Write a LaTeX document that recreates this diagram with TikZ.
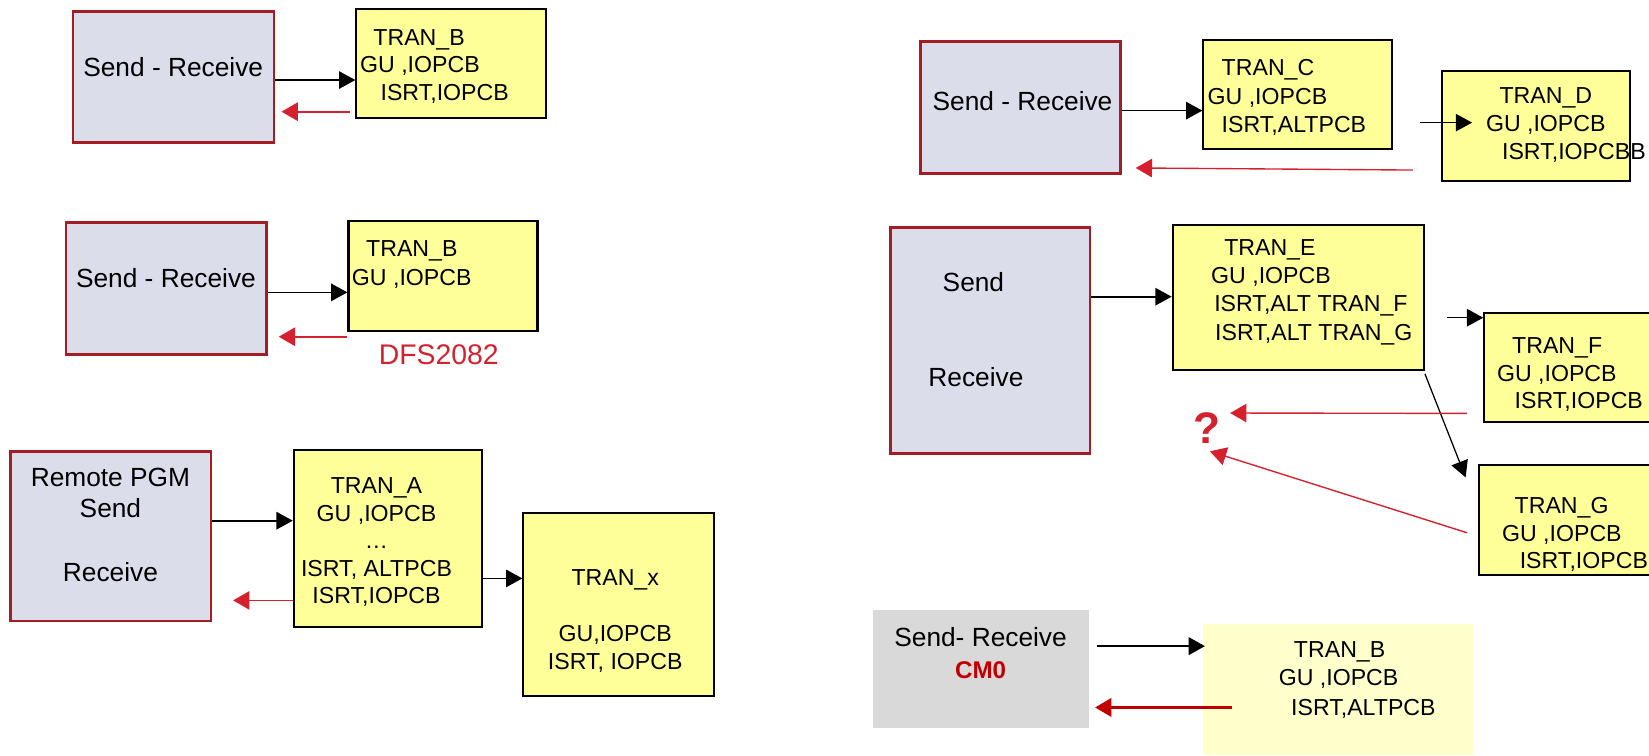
\documentclass[tikz,border=0pt]{standalone}
\usepackage{fontspec}
\setmainfont{Liberation Sans}
\usetikzlibrary{arrows.meta,calc}

\definecolor{boxgrey}{RGB}{220,221,235}
\definecolor{boxrim}{RGB}{165,28,36}
\definecolor{tranyellow}{RGB}{255,255,153}
\definecolor{retred}{RGB}{212,33,45}
\definecolor{cmred}{RGB}{192,0,0}
\definecolor{cmgrey}{RGB}{217,217,217}
\definecolor{paleyellow}{RGB}{255,255,204}

\tikzset{
  pgmbox/.style={draw=boxrim, line width=2.4pt, fill=boxgrey, inner sep=0pt},
  tranbox/.style={draw=black, line width=2pt, fill=tranyellow, inner sep=0pt},
  bigtxt/.style={font=\fontsize{25}{30}\selectfont, inner sep=0pt, anchor=base},
  trantxt/.style={font=\fontsize{22}{26}\selectfont, inner sep=0pt, anchor=base west},
  trancen/.style={font=\fontsize{22}{26}\selectfont, inner sep=0pt, anchor=base},
  callarrow/.style={line width=1.6pt, -{Triangle[length=15.5pt,width=16.5pt]}},
  backarrow/.style={draw=retred, line width=1.6pt, -{Triangle[length=15.5pt,width=17.5pt]}, retred},
}

\begin{document}
\begin{tikzpicture}[x=1pt,y=-1pt]
\useasboundingbox (0,0) rectangle (1568,718);
\fill[white] (0,0) rectangle (1568,718);
\clip (0,0) rectangle (1568,718);

% ---------- left column, top: Send - Receive -> TRAN_B ----------
\node[pgmbox, minimum width=191pt, minimum height=124.6pt] (g1) at (165,73.4) {};
\node[tranbox, minimum width=180pt, minimum height=103.6pt] (b1) at (428.9,60.7) {};
\node[bigtxt] (g1t) at (164.7,72.4) {Send - Receive};
\node[trantxt] (b1t1) at (354.9,42.8) {TRAN\_B};
\node[trantxt] (b1t2) at (342.3,69.1) {GU ,IOPCB};
\node[trantxt] (b1t3) at (361.7,95.7) {ISRT,IOPCB};
\draw[callarrow] ($(g1.east)+(0,2.7)$) coordinate (p1) -- (p1 -| b1.west);
\draw[backarrow, shorten >=6pt] ($(b1.west)+(-5,45.5)$) coordinate (q1) -- (q1 -| g1.east);

% ---------- left column, middle: DFS2082 case ----------
\node[pgmbox, minimum width=190.5pt, minimum height=125.2pt] (g2) at (158,274.4) {};
\node[tranbox, minimum width=179.7pt, minimum height=104.6pt] (b2) at (421.2,262.5) {};
\node[bigtxt] (g2t) at (157.8,273.7) {Send - Receive};
\node[trantxt] (b2t1) at (348,244.1) {TRAN\_B};
\node[trantxt] (b2t2) at (334.5,271) {GU ,IOPCB};
\node[trantxt, font=\fontsize{27}{32}\selectfont, text=retred] (dfs) at (360,346.7) {DFS2082};
\draw[callarrow] ($(g2.east)+(0,3.6)$) coordinate (p2) -- (p2 -| b2.west);
\draw[backarrow, shorten >=10.6pt] ($(b2.west)+(0,57.7)$) coordinate (q2) -- (q2 -| g2.east);

% ---------- left column, bottom: remote program ----------
\node[pgmbox, minimum width=190.8pt, minimum height=161.1pt] (g3) at (105.4,510) {};
\node[tranbox, minimum width=179pt, minimum height=168pt] (ta) at (368.9,511.9) {};
\node[tranbox, minimum width=181.2pt, minimum height=173.4pt] (tx) at (588.3,574.9) {};
\node[bigtxt] (g3t1) at (105,462.3) {Remote PGM};
\node[bigtxt] (g3t2) at (105,492.4) {Send};
\node[bigtxt] (g3t3) at (105,552.6) {Receive};
\node[trancen] (tat1) at (358,469.1) {TRAN\_A};
\node[trancen] (tat2) at (358,495.4) {GU ,IOPCB};
\node[trancen] (tat3) at (358,521.7) {…};
\node[trancen] (tat4) at (358,548) {ISRT, ALTPCB};
\node[trancen] (tat5) at (358,574.3) {ISRT,IOPCB};
\node[trancen] (txt1) at (585,556.3) {TRAN\_x};
\node[trancen] (txt2) at (585,610.2) {GU,IOPCB};
\node[trancen] (txt3) at (585,636.2) {ISRT, IOPCB};
\draw[callarrow] ($(g3.east)+(0,-14.9)$) coordinate (p3) -- (p3 -| ta.west);
\draw[backarrow, shorten >=19.7pt] ($(ta.west)+(0,59)$) coordinate (q3) -- (q3 -| g3.east);
\draw[callarrow] ($(ta.east)+(0,38.1)$) coordinate (p4) -- (p4 -| tx.west);

% ---------- right column, top: TRAN_C -> TRAN_D ----------
\node[pgmbox, minimum width=190pt, minimum height=125.2pt] (g4) at (970.3,102.2) {};
\node[tranbox, minimum width=179pt, minimum height=103.7pt] (tc) at (1233.8,89.9) {};
\node[tranbox, minimum width=179pt, minimum height=104.3pt] (td) at (1460.7,119.7) {};
\node[bigtxt] (g4t) at (972.3,105) {Send - Receive};
\node[trantxt] (tct1) at (1161.5,72.2) {TRAN\_C};
\node[trantxt] (tct2) at (1148.1,99.2) {GU ,IOPCB};
\node[trantxt] (tct3) at (1161.5,126.1) {ISRT,ALTPCB};
\node[trantxt] (tdt1) at (1425.7,98.2) {TRAN\_D};
\node[trantxt] (tdt2) at (1412.8,125.2) {GU ,IOPCB};
\node[trantxt] (tdt3) at (1428.1,152.1) {ISRT,IOPCBB};
\draw[callarrow] ($(g4.east)+(0,3)$) coordinate (p5) -- (p5 -| tc.west);
\draw[callarrow, line width=1.4pt] ($(tc.east)+(25.9,26.7)$) coordinate (p6) -- ($(p6 -| td.west)+(29.6,0)$);
\draw[backarrow, line width=1.3pt] ($(td.west)+(-26.8,42)$) -- ($(g4.south east)+(13.4,-6.3)$);

% ---------- right column, middle: TRAN_E -> TRAN_F / TRAN_G ----------
\node[pgmbox, minimum width=190pt, minimum height=214.9pt] (g5) at (941.6,323.7) {};
\node[tranbox, minimum width=238.8pt, minimum height=137.9pt] (te) at (1234.5,283) {};
\node[tranbox, minimum width=200pt, minimum height=103.7pt] (tf) at (1511.4,349.2) {};
\node[tranbox, minimum width=200pt, minimum height=104.6pt] (tg) at (1506.6,494.5) {};
\node[bigtxt] (g5t1) at (925.6,276.9) {Send};
\node[bigtxt] (g5t2) at (928,367.2) {Receive};
\node[trantxt] (tet1) at (1163.9,242.5) {TRAN\_E};
\node[trantxt] (tet2) at (1151.5,269.4) {GU ,IOPCB};
\node[trantxt] (tet3) at (1154.4,296.4) {ISRT,ALT TRAN\_F};
\node[trantxt] (tet4) at (1155.3,323.3) {ISRT,ALT TRAN\_G};
\node[trantxt] (tft1) at (1437.7,336) {TRAN\_F};
\node[trantxt] (tft2) at (1423.3,362.9) {GU ,IOPCB};
\node[trantxt] (tft3) at (1440.1,388.3) {ISRT,IOPCB};
\node[trantxt] (tgt1) at (1440.1,488.1) {TRAN\_G};
\node[trantxt] (tgt2) at (1428.1,514.5) {GU ,IOPCB};
\node[trantxt] (tgt3) at (1444.9,540.4) {ISRT,IOPCB};
\node[font=\fontsize{42}{48}\bfseries, text=retred, inner sep=0pt, anchor=base] (q) at (1148,421.3) {?};
\draw[callarrow] ($(g5.east)+(0,-41.6)$) coordinate (p7) -- (p7 -| te.west);
\draw[callarrow, line width=1.4pt] ($(te.east)+(20.6,19.1)$) coordinate (p8) -- (p8 -| tf.west);
\draw[callarrow, line width=1.2pt] ($(te.south east)+(0,2.5)$) -- ($(tg.north west)+(-12,12.7)$);
\draw[backarrow, line width=1.3pt] ($(tf.west)+(-15.4,43.9)$) -- ($(q.center)+(21.7,-13.9)$);
\draw[backarrow, line width=1.3pt] ($(tg.west)+(-10.6,12.1)$) -- ($(q.center)+(2.5,22.5)$);

% ---------- right column, bottom: CM0 ----------
\node[fill=cmgrey, inner sep=0pt, minimum width=205pt, minimum height=112pt] (g6) at (932.8,636) {};
\node[fill=paleyellow, inner sep=0pt, minimum width=258pt, minimum height=124.6pt] (tb3) at (1273,655.7) {};
\node[bigtxt] (g6t1) at (932.4,614.5) {Send- Receive};
\node[bigtxt, font=\fontsize{23}{28}\bfseries, text=cmred] (g6t2) at (932.4,645.4) {CM0};
\node[trantxt] (tb3t1) at (1230.2,625.4) {TRAN\_B};
\node[trantxt] (tb3t2) at (1215.8,652.1) {GU ,IOPCB};
\node[trantxt] (tb3t3) at (1227.5,679.9) {ISRT,ALTPCB};
\draw[callarrow, line width=2.5pt] ($(g6.east)+(7.8,-21.6)$) coordinate (p9) -- ($(p9 -| tb3.west)+(2,0)$);
\draw[backarrow, draw=cmred, cmred, line width=2.5pt, shorten >=5.8pt] ($(tb3.west)+(27.2,17)$) coordinate (q9) -- (q9 -| g6.east);
\end{tikzpicture}
\end{document}
